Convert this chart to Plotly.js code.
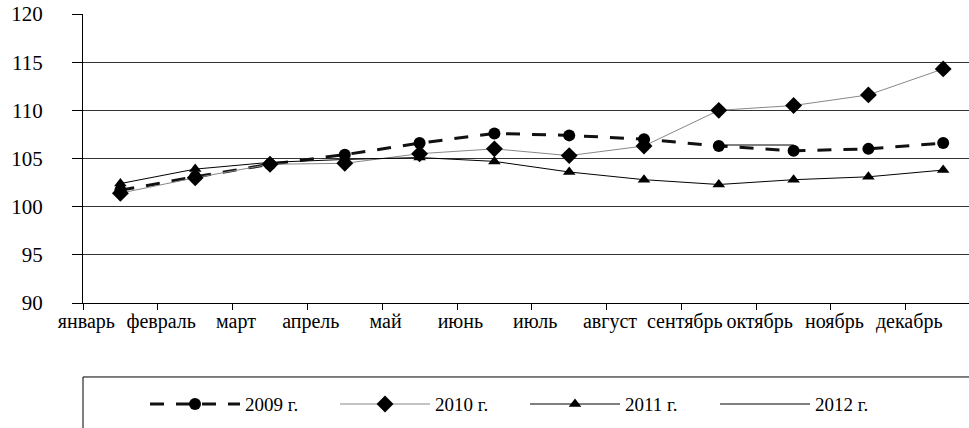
<!DOCTYPE html>
<html>
<head>
<meta charset="utf-8">
<script src="https://cdn.plot.ly/plotly-3.0.1.min.js"></script>
<style>
  html, body { margin: 0; padding: 0; background: #fff; }
  #chart { width: 969px; height: 428px; }
</style>
</head>
<body>
<div id="chart"></div>
<script>
const months = ['январь','февраль','март','апрель','май','июнь','июль','август','сентябрь','октябрь','ноябрь','декабрь'];
const seriesNames = ['2009 г.', '2010 г.', '2011 г.', '2012 г.'];
const y2009 = [101.7, 103.1, 104.4, 105.4, 106.6, 107.6, 107.4, 107.0, 106.3, 105.8, 106.0, 106.6];
const y2010 = [101.4, 103.0, 104.4, 104.5, 105.5, 106.0, 105.3, 106.3, 110.0, 110.5, 111.6, 114.3];
const y2011 = [102.4, 103.9, 104.6, 104.9, 105.1, 104.7, 103.6, 102.8, 102.3, 102.8, 103.1, 103.8];
const y2012 = [null, null, null, null, null, null, null, null, 106.4, 106.4, null, null];
const yTicks = [90, 95, 100, 105, 110, 115, 120];

const FONT = 'Liberation Serif';

const traces = [
  {
    x: months, y: y2009, name: seriesNames[0], type: 'scatter', mode: 'lines+markers',
    line: {color: '#111', width: 3, dash: '14px,12px'},
    marker: {symbol: 'circle', size: 12, color: '#000'}
  },
  {
    x: months, y: y2010, name: seriesNames[1], type: 'scatter', mode: 'lines+markers',
    line: {color: '#888', width: 1},
    marker: {symbol: 'diamond', size: 13, color: '#000'}
  },
  {
    x: months, y: y2011, name: seriesNames[2], type: 'scatter', mode: 'lines+markers',
    line: {color: '#000', width: 1},
    marker: {symbol: 'triangle-up', size: 11, color: '#000'}
  },
  {
    x: months, y: y2012, name: seriesNames[3], type: 'scatter', mode: 'lines',
    line: {color: '#000', width: 1}
  }
];

const layout = {
  width: 969, height: 428,
  margin: {l: 83, r: 0, t: 14, b: 125},
  paper_bgcolor: '#fff', plot_bgcolor: '#fff',
  font: {family: FONT, color: '#000', size: 20},
  showlegend: true,
  xaxis: {
    type: 'category',
    categoryorder: 'array', categoryarray: months,
    range: [-0.5, 11.345],
    showline: true, linecolor: '#000', linewidth: 1,
    ticks: 'outside', ticklen: 6, tickcolor: '#000', tickson: 'boundaries',
    showgrid: false, zeroline: false,
    tickangle: 0,
    ticklabelshift: -34,
    tickfont: {family: FONT, size: 20, color: '#000'}
  },
  yaxis: {
    range: [90, 120],
    tickvals: yTicks, ticktext: yTicks.map(String),
    showline: true, linecolor: '#000', linewidth: 1,
    ticks: 'outside', ticklen: 10, tickcolor: '#000',
    showgrid: true, gridcolor: '#333', gridwidth: 1,
    zeroline: false,
    ticklabelstandoff: 25,
    tickfont: {family: FONT, size: 21, color: '#000'}
  },
  legend: {
    orientation: 'h',
    x: 0.07, xanchor: 'left',
    y: -0.35, yanchor: 'middle',
    yref: 'paper',
    bgcolor: 'rgba(0,0,0,0)',
    borderwidth: 0,
    itemwidth: 90,
    entrywidth: 85,
    font: {family: FONT, size: 19, color: '#000'}
  },
  shapes: [
    {
      type: 'rect', xref: 'paper', yref: 'paper',
      x0: 0, x1: 1.1, y0: -0.256, y1: -0.6,
      line: {color: '#000', width: 1}, fillcolor: 'rgba(0,0,0,0)'
    }
  ]
};

Plotly.newPlot('chart', traces, layout, {displayModeBar: false, responsive: false}).then(function () {
  // Diagnostic-free: ensure serif family is used on all text nodes
  document.querySelectorAll('#chart text').forEach(function (t) {
    t.style.fontFamily = "'Liberation Serif', serif";
  });
});
</script>
</body>
</html>
